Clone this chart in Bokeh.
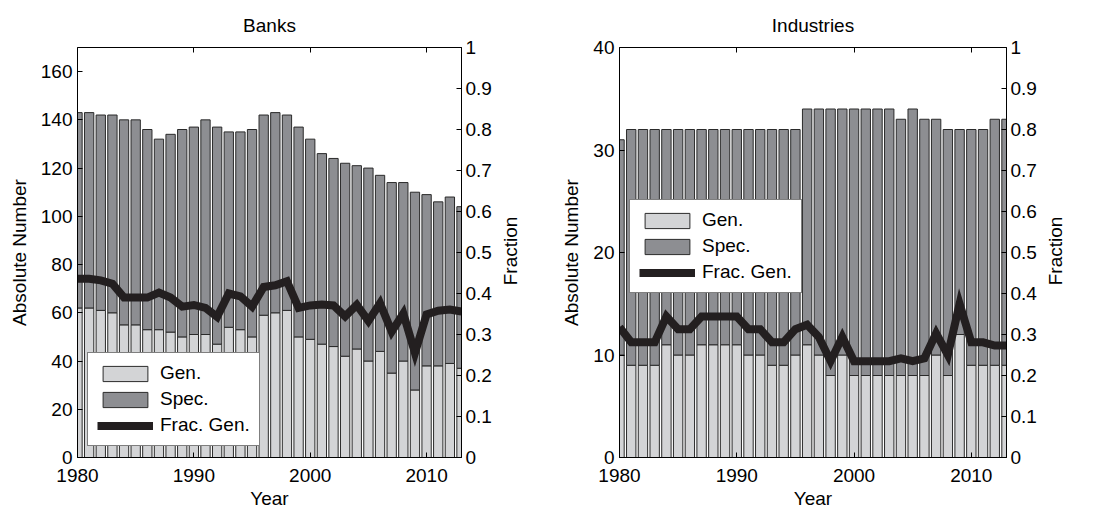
import math
from bokeh.plotting import figure
from bokeh.models import (Range1d, LinearAxis, FixedTicker, Legend, LegendItem,
                          CustomJSTickFormatter, ColumnDataSource)
from bokeh.layouts import row
from bokeh.embed import file_html
from bokeh.resources import INLINE

years = list(range(1980, 2014))

banks_total = [143, 143, 142, 142, 140, 140, 136, 132, 134, 136, 137, 140, 137, 135, 135, 136, 142,
               143, 142, 137, 132, 126, 124, 122, 121, 120, 117, 114, 114, 110, 109, 106, 108, 104]
banks_gen = [62, 62, 61, 60, 55, 55, 53, 53, 52, 50, 51, 51, 47, 54, 53, 50, 59,
             60, 61, 50, 49, 47, 46, 42, 45, 40, 44, 35, 40, 28, 38, 38, 39, 37]
banks_frac = [0.436, 0.436, 0.432, 0.424, 0.39, 0.39, 0.39, 0.402, 0.39, 0.368, 0.372, 0.365, 0.343, 0.4, 0.393, 0.368, 0.416,
              0.42, 0.43, 0.365, 0.371, 0.373, 0.371, 0.344, 0.372, 0.333, 0.376, 0.307, 0.351, 0.255, 0.349, 0.358, 0.361, 0.356]

ind_total = [31, 32, 32, 32, 32, 32, 32, 32, 32, 32, 32, 32, 32, 32, 32, 32, 34,
             34, 34, 34, 34, 34, 34, 34, 33, 34, 33, 33, 32, 32, 32, 32, 33, 33]
ind_gen = [10, 9, 9, 9, 11, 10, 10, 11, 11, 11, 11, 10, 10, 9, 9, 10, 11,
           10, 8, 10, 8, 8, 8, 8, 8, 8, 8, 10, 8, 12, 9, 9, 9, 9]
ind_frac = [0.318, 0.281, 0.281, 0.281, 0.344, 0.313, 0.313, 0.344, 0.344, 0.344, 0.344, 0.313, 0.313, 0.281, 0.281, 0.313, 0.324,
            0.294, 0.235, 0.294, 0.235, 0.235, 0.235, 0.235, 0.242, 0.235, 0.242, 0.303, 0.25, 0.375, 0.281, 0.281, 0.273, 0.273]

x_ticks = [1980, 1990, 2000, 2010]
top_ticks = [1990, 2000, 2010]
banks_yticks = [0, 20, 40, 60, 80, 100, 120, 140, 160]
ind_yticks = [0, 10, 20, 30, 40]
frac_ticks = [0, 0.1, 0.2, 0.3, 0.4, 0.5, 0.6, 0.7, 0.8, 0.9, 1.0]
frac_label_anchor = [0.42]   # where the bottom of the rotated "Fraction" label starts

FONT = "Liberation Sans"
FS = "19px"
LIGHT = "#d3d4d6"
DARK = "#8d8e92"
LINE = "#231f20"


def style_axis(ax):
    ax.major_label_text_font = FONT
    ax.major_label_text_font_size = FS
    ax.major_label_text_color = "black"
    ax.axis_label_text_font = FONT
    ax.axis_label_text_font_size = FS
    ax.axis_label_text_font_style = "normal"
    ax.axis_label_text_color = "black"
    ax.major_tick_in = 5
    ax.major_tick_out = 0
    ax.minor_tick_line_color = None
    ax.axis_line_color = "black"
    ax.major_tick_line_color = "black"


def make(title, total, gen, frac, ymax, yticks, legend_xy, width, bl, br):
    src = ColumnDataSource(dict(x=years, gen=gen, total=total, frac=frac))
    p = figure(width=width, height=511, x_range=Range1d(1980, 2013), y_range=Range1d(0, ymax),
               output_backend="svg", toolbar_location=None,
               min_border_left=bl, min_border_right=br, min_border_top=47, min_border_bottom=53)
    p.extra_y_ranges = {"frac": Range1d(0, 1)}
    p.xgrid.visible = False
    p.ygrid.visible = False
    p.outline_line_color = "black"
    p.outline_line_alpha = 1
    p.background_fill_color = "white"
    p.border_fill_color = "white"

    r_gen = p.vbar(x="x", width=0.8, bottom=0, top="gen", source=src,
                   fill_color=LIGHT, line_color="#2a2a2a", line_width=1)
    r_spec = p.vbar(x="x", width=0.8, bottom="gen", top="total", source=src,
                    fill_color=DARK, line_color="#2a2a2a", line_width=1)
    r_line = p.line(x="x", y="frac", source=src, y_range_name="frac",
                    line_color=LINE, line_width=8, line_join="miter")

    p.xaxis.ticker = FixedTicker(ticks=x_ticks)
    p.xaxis.axis_label = "Year"
    p.xaxis.major_label_standoff = 11
    p.xaxis.axis_label_standoff = 3
    p.yaxis.ticker = FixedTicker(ticks=yticks)
    p.yaxis.axis_label = "Absolute Number"
    p.yaxis.major_label_standoff = 5
    p.yaxis.axis_label_standoff = 8
    style_axis(p.xaxis[0])
    style_axis(p.yaxis[0])

    rax = LinearAxis(y_range_name="frac", ticker=FixedTicker(ticks=frac_ticks),
                     formatter=CustomJSTickFormatter(code="return parseFloat(tick.toFixed(2)).toString();"))
    style_axis(rax)
    rax.major_label_standoff = 4
    p.add_layout(rax, "right")

    # outer right axis that carries only the rotated "Fraction" title (reads bottom-to-top)
    lax = LinearAxis(y_range_name="frac", ticker=FixedTicker(ticks=frac_label_anchor),
                     major_label_overrides={frac_label_anchor[0]: "Fraction"})
    style_axis(lax)
    lax.major_label_orientation = math.pi / 2
    lax.major_label_standoff = 16
    lax.major_tick_line_color = None
    lax.axis_line_color = None
    p.add_layout(lax, "right")

    tax = LinearAxis(ticker=FixedTicker(ticks=top_ticks))
    style_axis(tax)
    tax.major_label_text_font_size = "0px"
    tax.major_label_text_color = None
    tax.major_label_standoff = 0
    tax.axis_line_color = None
    p.add_layout(tax, "above")

    p.title.text = title
    p.title.align = "center"
    p.title.text_font = FONT
    p.title.text_font_size = FS
    p.title.text_font_style = "normal"
    p.title.text_color = "black"
    p.title.standoff = 24

    legend = Legend(items=[LegendItem(label="Gen.", renderers=[r_gen]),
                           LegendItem(label="Spec.", renderers=[r_spec]),
                           LegendItem(label="Frac. Gen.", renderers=[r_line])],
                    location=legend_xy)
    legend.label_text_font = FONT
    legend.label_text_font_size = FS
    legend.label_text_color = "black"
    legend.glyph_width = 56
    legend.glyph_height = 19
    legend.label_height = 22
    legend.label_standoff = 7
    legend.spacing = 4
    legend.padding = 9
    legend.margin = 0
    legend.border_line_color = "black"
    legend.border_line_width = 1
    legend.background_fill_color = "white"
    legend.background_fill_alpha = 1
    p.add_layout(legend)
    return p


p1 = make("Banks", banks_total, banks_gen, banks_frac, 170, banks_yticks, (10, 11), 540, 77, 79)
p2 = make("Industries", ind_total, ind_gen, ind_frac, 40, ind_yticks, (10, 164), 557, 79, 91)

layout = row(p1, p2)
open("out.html", "w").write(file_html(layout, INLINE))
